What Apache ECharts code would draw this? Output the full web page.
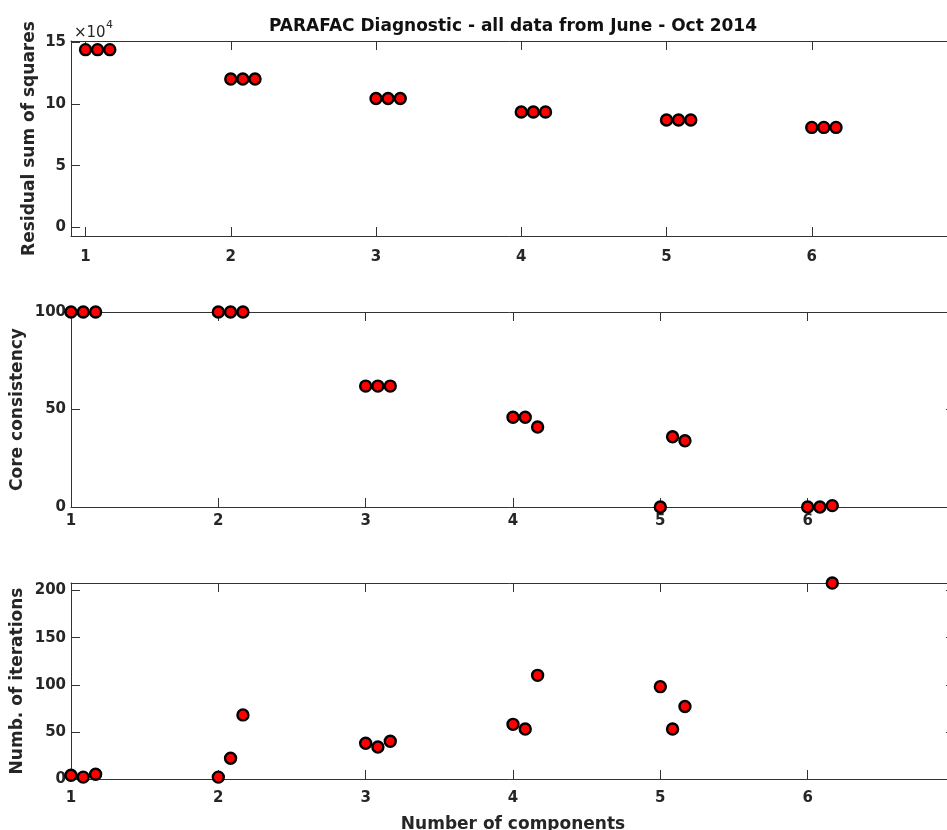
<!DOCTYPE html>
<html>
<head>
<meta charset="utf-8">
<script src="https://cdn.jsdelivr.net/npm/echarts@6/dist/echarts.min.js"></script>
<style>
html,body{margin:0;padding:0;background:#fff;}
#chart{width:947px;height:830px;}
</style>
</head>
<body>
<div id="chart"></div>
<script>
// ---- data ----
const titleText = 'PARAFAC Diagnostic - all data from June - Oct 2014';
const xTickValues = [1, 2, 3, 4, 5, 6, 7];
const xPositions = [1.000, 1.083, 1.167, 2.000, 2.083, 2.167, 3.000, 3.083, 3.167,
                    4.000, 4.083, 4.167, 5.000, 5.083, 5.167, 6.000, 6.083, 6.167];
const residualSS = [144000, 144000, 144000, 120200, 120200, 120200, 104400, 104400, 104400,
                    93500, 93500, 93500, 87000, 87000, 87000, 81000, 81000, 81000];
const coreConsistency = [100, 100, 100, 100, 100, 100, 62, 62, 62,
                         46, 46, 41, 0, 36, 34, 0, 0, 0.7];
const iterations = [4, 2, 5, 2, 22, 68, 38, 34, 40,
                    58, 53, 110, 98, 53, 77, null, null, 208];
const rssTicks = [0, 50000, 100000, 150000];
const coreTicks = [0, 50, 100];
const iterTicks = [0, 50, 100, 150, 200];
const yNames = ['Residual sum of squares', 'Core consistency', 'Numb. of iterations'];
const xName = 'Number of components';

// ---- styling ----
const FONT = 'DejaVu Sans';
const TXT = '#262626';
const LINE = '#333333';

const grids = [
  {left: 71, top: 41, width: 886, height: 195, outerBoundsMode: 'none', containLabel: false},
  {left: 71, top: 312, width: 884, height: 195, outerBoundsMode: 'none', containLabel: false},
  {left: 71, top: 583, width: 884, height: 196, outerBoundsMode: 'none', containLabel: false}
];
const xRanges = [[0.9, 7], [1, 7], [1, 7]];
const yRanges = [[-7000, 151000], [0, 100], [0, 208]];
const yTickSets = [rssTicks, coreTicks, iterTicks];
const yFormatters = [v => String(v / 10000), v => String(v), v => String(v)];
const yNameGaps = [33, 45, 45];
const xLabelMargins = [14, 7, 12];
const seriesValues = [residualSS, coreConsistency, iterations];

const xAxes = [], yAxes = [], series = [];
for (let i = 0; i < 3; i++) {
  const ticksX = xTickValues;
  xAxes.push({
    type: 'value', gridIndex: i, position: 'bottom',
    min: xRanges[i][0], max: xRanges[i][1],
    axisLine: {show: true, onZero: false, lineStyle: {color: LINE, width: 1}},
    axisTick: {show: true, inside: true, length: 9, customValues: ticksX, lineStyle: {color: LINE}},
    axisLabel: {show: true, customValues: xTickValues.slice(0, 6), margin: xLabelMargins[i],
      color: TXT, fontFamily: FONT, fontWeight: 'bold', fontSize: 15},
    splitLine: {show: false},
    name: i === 2 ? xName : '', nameLocation: 'middle', nameGap: 37, nameMoveOverlap: false,
    nameTextStyle: {color: TXT, fontFamily: FONT, fontWeight: 'bold', fontSize: 17}
  });
  xAxes.push({
    type: 'value', gridIndex: i, position: 'top',
    min: xRanges[i][0], max: xRanges[i][1],
    axisLine: {show: true, onZero: false, lineStyle: {color: LINE, width: 1}},
    axisTick: {show: true, inside: true, length: 9, customValues: ticksX, lineStyle: {color: LINE}},
    axisLabel: {show: false},
    splitLine: {show: false}
  });
  yAxes.push({
    type: 'value', gridIndex: i, position: 'left',
    min: yRanges[i][0], max: yRanges[i][1],
    axisLine: {show: true, onZero: false, lineStyle: {color: LINE, width: 1}},
    axisTick: {show: true, inside: true, length: 9, customValues: yTickSets[i], lineStyle: {color: LINE}},
    axisLabel: {show: true, customValues: yTickSets[i], formatter: yFormatters[i], margin: 5,
      color: TXT, fontFamily: FONT, fontWeight: 'bold', fontSize: 15},
    splitLine: {show: false},
    name: yNames[i], nameLocation: 'middle', nameGap: yNameGaps[i], nameRotate: 90,
    nameMoveOverlap: false,
    nameTextStyle: {color: TXT, fontFamily: FONT, fontWeight: 'bold', fontSize: 17}
  });
  yAxes.push({
    type: 'value', gridIndex: i, position: 'right',
    min: yRanges[i][0], max: yRanges[i][1],
    axisLine: {show: true, onZero: false, lineStyle: {color: LINE, width: 1}},
    axisTick: {show: true, inside: true, length: 9, customValues: yTickSets[i], lineStyle: {color: LINE}},
    axisLabel: {show: false},
    splitLine: {show: false}
  });
  const vals = seriesValues[i];
  series.push({
    type: 'scatter', xAxisIndex: 2 * i, yAxisIndex: 2 * i, clip: false,
    symbol: 'circle', symbolSize: 11,
    itemStyle: {color: '#ff0000', borderColor: '#000000', borderWidth: 2.4, opacity: 1},
    emphasis: {disabled: true},
    data: xPositions.map((x, k) => vals[k] == null ? null : [x, vals[k]]).filter(d => d)
  });
}

const option = {
  backgroundColor: '#ffffff',
  animation: false,
  title: {
    text: titleText, left: 508, top: 13, textAlign: 'center',
    textStyle: {color: '#111', fontFamily: FONT, fontWeight: 'bold', fontSize: 17}
  },
  grid: grids,
  xAxis: xAxes,
  yAxis: yAxes,
  series: series,
  graphic: [
    {type: 'text', x: 74, y: 26, style: {text: '×10', fill: TXT, font: '15px "DejaVu Sans"'}},
    {type: 'text', x: 106, y: 20, style: {text: '4', fill: TXT, font: '11px "DejaVu Sans"'}}
  ]
};
const chart = echarts.init(document.getElementById('chart'), null, {renderer: 'canvas'});
chart.setOption(option);
</script>
</body>
</html>
